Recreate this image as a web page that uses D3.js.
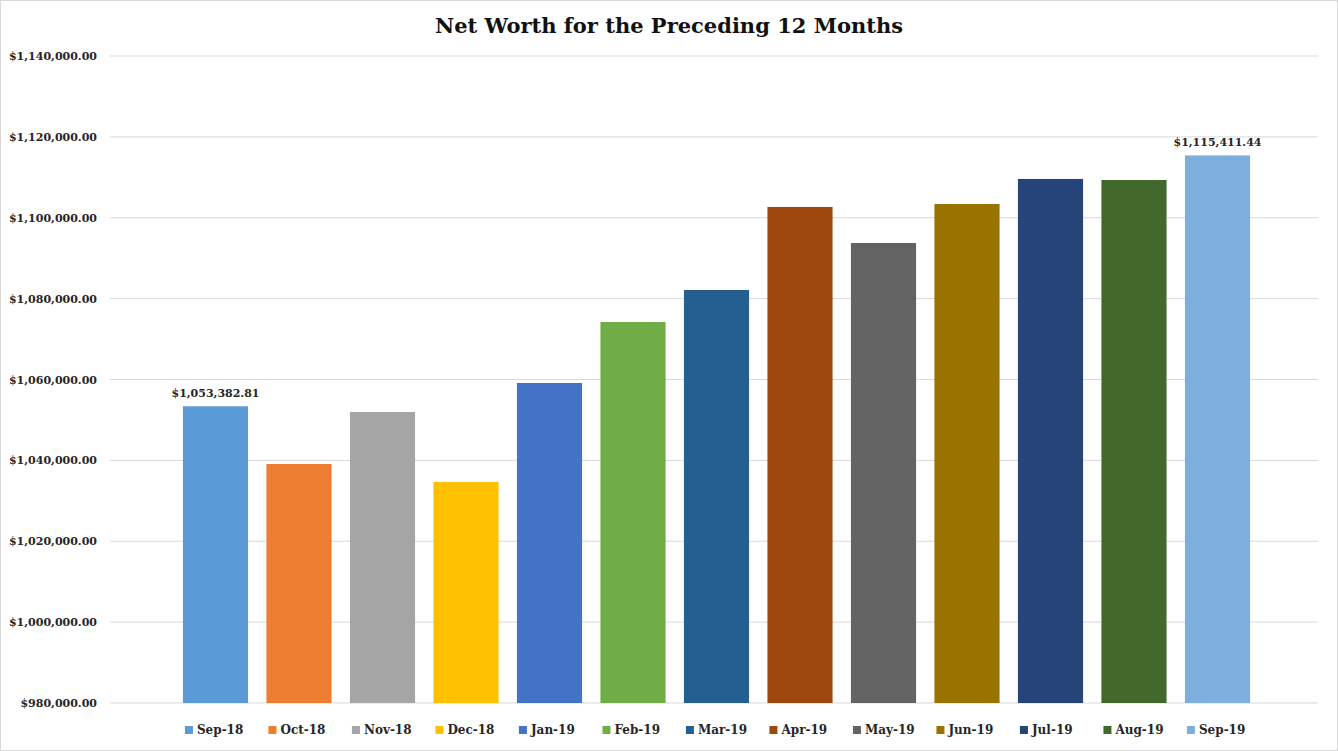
<!DOCTYPE html>
<html><head><meta charset="utf-8">
<script src="https://cdn.jsdelivr.net/npm/d3@7"></script>
<style>body{margin:0;background:#fff}svg{display:block}text{font-family:"DejaVu Serif","Liberation Serif",serif}</style>
</head><body><svg id="c" width="1338" height="751"></svg>
<script>
const categories=["Sep-18","Oct-18","Nov-18","Dec-18","Jan-19","Feb-19","Mar-19","Apr-19","May-19","Jun-19","Jul-19","Aug-19","Sep-19"];
const values=[1053382.81,1039100,1051960,1034650,1059140,1074220,1082140,1102660,1093760,1103400,1109590,1109340,1115411.44];
const colors=["#5B9BD5","#ED7D31","#A5A5A5","#FFC000","#4472C4","#70AD47","#255E91","#9E480E","#636363","#997300","#264478","#43682B","#7CAFDD"];
const yTicks=[980000,1000000,1020000,1040000,1060000,1080000,1100000,1120000,1140000];
const labeled=[0,12];

const svg=d3.select("#c");
svg.append("rect").attr("x",0.5).attr("y",0.5).attr("width",1337).attr("height",750).attr("fill","#fff").attr("stroke","#d9d9d9");
const y=d3.scaleLinear().domain([980000,1140000]).range([703,56]);
const x=d3.scaleBand().domain(categories).range([173.75,1259.25]).paddingInner(0.22).paddingOuter(0.11);
const fmt=d3.format("$,.2f");
svg.append("g").selectAll("line").data(yTicks).join("line")
 .attr("x1",110).attr("x2",1318).attr("y1",d=>y(d)).attr("y2",d=>y(d)).attr("stroke","#d9d9d9");
svg.append("g").selectAll("text").data(yTicks).join("text")
 .attr("x",97).attr("y",d=>y(d)+4).attr("text-anchor","end").attr("font-size",11).attr("font-weight","bold").attr("fill","#262626").text(d=>fmt(d));
svg.append("g").selectAll("rect").data(values).join("rect")
 .attr("x",(d,i)=>x(categories[i])).attr("width",x.bandwidth()).attr("y",d=>y(d)).attr("height",d=>703-y(d)).attr("fill",(d,i)=>colors[i]);
svg.append("g").selectAll("text").data(labeled).join("text")
 .attr("x",i=>x(categories[i])+x.bandwidth()/2).attr("y",i=>y(values[i])-9).attr("text-anchor","middle")
 .attr("font-size",11).attr("font-weight","bold").attr("fill","#262626").text(i=>fmt(values[i]));
svg.append("text").attr("x",669).attr("y",33).attr("text-anchor","middle").attr("font-size",21).attr("font-weight","bold").attr("fill","#111").text("Net Worth for the Preceding 12 Months");
const lg=svg.append("g").selectAll("g").data(categories).join("g")
 .attr("transform",(d)=>`translate(${x(d)+2},730)`);
lg.append("rect").attr("x",0).attr("y",-4).attr("width",8).attr("height",8).attr("fill",(d,i)=>colors[i]);
lg.append("text").attr("x",12).attr("y",4).attr("font-size",12).attr("font-weight","bold").attr("fill","#262626").text(d=>d);
</script></body></html>
